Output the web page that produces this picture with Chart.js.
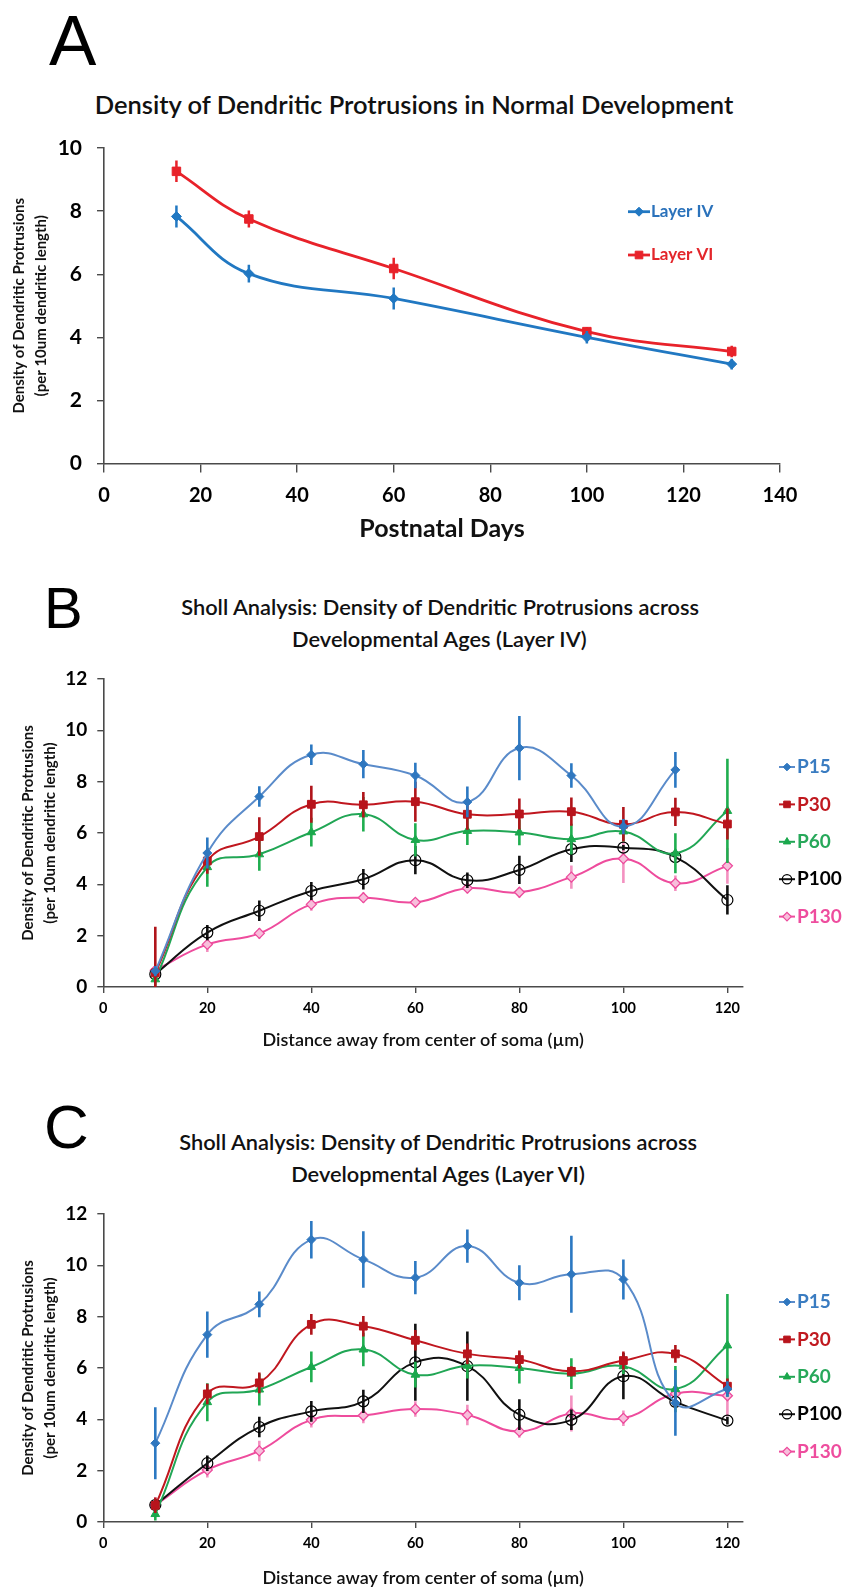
<!DOCTYPE html>
<html><head><meta charset="utf-8">
<script src="https://cdn.jsdelivr.net/npm/chart.js@4/dist/chart.umd.min.js"></script>
<style>
html,body{margin:0;padding:0;background:#fff;width:843px;height:1587px;overflow:hidden;position:relative}
canvas{position:absolute;left:0}
.letter{position:absolute;font-family:'Liberation Sans',Arial,sans-serif;color:#000;line-height:1;white-space:nowrap}
.ttl{position:absolute;white-space:nowrap;color:#111}
</style></head>
<body>
<div class="letter" id="LA" style="font-size:71px;left:49px;top:5px">A</div>
<div class="letter" id="LB" style="font-size:58px;left:44px;top:579px">B</div>
<div class="letter" id="LC" style="font-size:62px;left:44px;top:1096px">C</div>
<div class="ttl" id="tA"></div>
<div class="ttl" id="tB1"></div><div class="ttl" id="tB2"></div>
<div class="ttl" id="tC1"></div><div class="ttl" id="tC2"></div>
<canvas id="cA" width="843" height="560" style="top:0px"></canvas>
<canvas id="cB" width="843" height="500" style="top:560px"></canvas>
<canvas id="cC" width="843" height="500" style="top:1090px"></canvas>
<script>
// ---------------- DATA ----------------
const daysA = [15, 30, 60, 100, 130];
const layerIV = [7.83, 6.02, 5.23, 4.0, 3.15];
const layerIVErr = [0.35, 0.28, 0.35, 0.2, 0.17];
const layerVI = [9.26, 7.75, 6.18, 4.18, 3.55];
const layerVIErr = [0.34, 0.27, 0.34, 0.15, 0.18];

const distances = [10, 20, 30, 40, 50, 60, 70, 80, 90, 100, 110, 120];
const xTicksSholl = [0, 20, 40, 60, 80, 100, 120];

// Layer IV (panel B)
const bP15 = [0.62, 5.22, 7.42, 9.05, 8.68, 8.24, 7.21, 9.31, 8.24, 6.25, 8.46];
const bP15Err = [0.2, 0.6, 0.4, 0.4, 0.55, 0.5, 0.6, 1.25, 0.48, 0.3, 0.7];
const bP30 = [0.55, 4.91, 5.86, 7.12, 7.1, 7.22, 6.73, 6.74, 6.83, 6.34, 6.82, 6.35];
const bP30Err = [1.8, 0.5, 0.75, 0.72, 0.5, 0.78, 0.6, 0.6, 0.55, 0.67, 0.55, 0.6];
const bP60 = [0.3, 4.67, 5.17, 6.03, 6.73, 5.73, 6.08, 6.02, 5.76, 6.06, 5.21, 6.86];
const bP60Err = [0.25, 0.76, 0.64, 0.56, 0.67, 0.65, 0.55, 0.5, 0.6, 0.4, 0.78, 2.03];
const bP100 = [0.5, 2.12, 2.97, 3.74, 4.2, 4.94, 4.16, 4.56, 5.37, 5.43, 5.06, 3.39];
const bP100Err = [0.15, 0.3, 0.4, 0.35, 0.4, 0.55, 0.3, 0.55, 0.5, 0.1, 0.1, 0.57];
const bP130 = [0.65, 1.66, 2.09, 3.22, 3.48, 3.3, 3.85, 3.69, 4.28, 5.0, 4.04, 4.72];
const bP130Err = [0.2, 0.3, 0.2, 0.25, 0.2, 0.15, 0.2, 0.2, 0.45, 0.95, 0.3, 0.7];

// Layer VI (panel C)
const cP15 = [3.07, 7.3, 8.48, 11.0, 10.23, 9.52, 10.75, 9.32, 9.65, 9.45, 4.64, 5.18];
const cP15Err = [1.4, 0.9, 0.5, 0.73, 1.1, 0.65, 0.65, 0.68, 1.5, 0.78, 1.28, 0.3];
const cP30 = [0.65, 4.99, 5.42, 7.7, 7.63, 7.08, 6.55, 6.33, 5.87, 6.29, 6.55, 5.29];
const cP30Err = [0.3, 0.4, 0.4, 0.4, 0.4, 0.4, 0.4, 0.35, 0.2, 0.35, 0.35, 0.3];
const cP60 = [0.31, 4.67, 5.16, 6.04, 6.72, 5.74, 6.09, 6.0, 5.78, 6.07, 5.18, 6.88];
const cP60Err = [0.25, 0.74, 0.62, 0.6, 0.65, 0.5, 0.5, 0.6, 0.6, 0.3, 0.9, 2.0];
const cP100 = [0.66, 2.29, 3.7, 4.31, 4.7, 6.22, 6.07, 4.18, 3.98, 5.68, 4.68, 3.95];
const cP100Err = [0.2, 0.3, 0.4, 0.4, 0.45, 1.5, 1.35, 0.6, 0.4, 0.9, 0.15, 0.15];
const cP130 = [0.66, 2.03, 2.77, 3.98, 4.15, 4.4, 4.17, 3.53, 4.23, 4.04, 5.0, 4.92];
const cP130Err = [0.3, 0.3, 0.4, 0.3, 0.3, 0.3, 0.4, 0.25, 0.7, 0.3, 0.4, 0.8];

// ---------------- STYLE ----------------
const FONT = 'Lato, "Open Sans", "DejaVu Sans", sans-serif';
const AX = '#4a4a4a';
const STY = {
  P15:  {line:'#5a8bca', marker:'#2f77bf', border:'#2f77bf', err:'#2b78c2', text:'#3a7cc1', ps:'rectRot', r:4.5, bw:1},
  P30:  {line:'#c0171f', marker:'#b8141c', border:'#b8141c', err:'#b0141a', text:'#c0191f', ps:'rect', r:5.5, bw:1},
  P60:  {line:'#21a655', marker:'#1aa84c', border:'#1aa84c', err:'#1fae4f', text:'#27a85a', ps:'triangle', r:5, bw:1},
  P100: {line:'#111111', marker:'rgba(255,255,255,0)', border:'#000', err:'#111', text:'#000', ps:'circle', r:5.5, bw:1.2},
  P130: {line:'#ee4c9d', marker:'#f8bedb', border:'#ec4b9c', err:'#f391c0', text:'#ee4d9e', ps:'rectRot', r:5, bw:1.3}
};

function drawMarker(ctx, style, x, y, r, fill, stroke, bw) {
  ctx.save();
  ctx.beginPath();
  if (style === 'rectRot') {
    ctx.moveTo(x, y - r); ctx.lineTo(x + r, y); ctx.lineTo(x, y + r); ctx.lineTo(x - r, y); ctx.closePath();
  } else if (style === 'rect') {
    const s = r * Math.SQRT1_2; ctx.rect(x - s, y - s, 2 * s, 2 * s);
  } else if (style === 'triangle') {
    let a = 0;
    ctx.moveTo(x + Math.sin(a) * r, y - Math.cos(a) * r);
    a += 2 * Math.PI / 3; ctx.lineTo(x + Math.sin(a) * r, y - Math.cos(a) * r);
    a += 2 * Math.PI / 3; ctx.lineTo(x + Math.sin(a) * r, y - Math.cos(a) * r);
    ctx.closePath();
  } else {
    ctx.arc(x, y, r, 0, Math.PI * 2);
  }
  ctx.fillStyle = fill; ctx.fill();
  if (bw > 0) { ctx.strokeStyle = stroke; ctx.lineWidth = bw; ctx.stroke(); }
  ctx.restore();
}

const errorBars = {
  id: 'errorBars',
  beforeDatasetDraw(chart, args) {
    const ds = chart.data.datasets[args.index];
    if (!ds.errors) return;
    const ctx = chart.ctx, ys = chart.scales.y, area = chart.chartArea;
    ctx.save();
    ctx.beginPath(); ctx.rect(area.left, area.top - 2, area.right - area.left, area.bottom - area.top + 2); ctx.clip();
    ctx.strokeStyle = ds.errColor; ctx.lineWidth = ds.errWidth; ctx.lineCap = 'butt';
    args.meta.data.forEach((pt, i) => {
      const v = ds.data[i].y, e = ds.errors[i];
      ctx.beginPath();
      ctx.moveTo(pt.x, ys.getPixelForValue(v - e));
      ctx.lineTo(pt.x, ys.getPixelForValue(v + e));
      ctx.stroke();
    });
    ctx.restore();
  }
};

const customLegend = {
  id: 'customLegend',
  afterDraw(chart, args, o) {
    const ctx = chart.ctx;
    ctx.save();
    chart.data.datasets.forEach((ds, i) => {
      const y = o.y0 + i * o.dy, x0 = o.x, x1 = o.x + o.len;
      ctx.strokeStyle = ds.borderColor; ctx.lineWidth = o.lineWidth;
      ctx.beginPath(); ctx.moveTo(x0, y); ctx.lineTo(x1, y); ctx.stroke();
      drawMarker(ctx, ds.pointStyle, (x0 + x1) / 2, y, ds.pointRadius * o.markerScale,
                 ds.pointBackgroundColor, ds.pointBorderColor, ds.pointBorderWidth);
      ctx.fillStyle = ds.legendColor; ctx.font = o.font;
      ctx.textBaseline = 'middle'; ctx.textAlign = 'left';
      ctx.fillText(ds.label, x1 + o.gap, y);
    });
    ctx.restore();
  }
};

function axisStyle(tickLen) {
  return {
    grid: {drawOnChartArea: false, drawTicks: true, tickLength: tickLen, color: AX, lineWidth: 1.4},
    border: {display: true, color: AX, width: 1.6}
  };
}

// ---------------- PANEL A ----------------
new Chart(document.getElementById('cA'), {
  type: 'line',
  data: {datasets: [
    {label: 'Layer IV', data: daysA.map((d, i) => ({x: d, y: layerIV[i]})), errors: layerIVErr,
     borderColor: '#2178c2', borderWidth: 2.8, tension: 0.4, fill: false,
     pointStyle: 'rectRot', pointRadius: 5, pointBackgroundColor: '#2178c2', pointBorderColor: '#2178c2', pointBorderWidth: 1,
     errColor: '#2178c2', errWidth: 2.5, legendColor: '#2b72bb'},
    {label: 'Layer VI', data: daysA.map((d, i) => ({x: d, y: layerVI[i]})), errors: layerVIErr,
     borderColor: '#e8222a', borderWidth: 2.8, tension: 0.4, fill: false,
     pointStyle: 'rect', pointRadius: 6, pointBackgroundColor: '#e8222a', pointBorderColor: '#e8222a', pointBorderWidth: 1,
     errColor: '#e8222a', errWidth: 2.5, legendColor: '#e3262b'}
  ]},
  options: {
    responsive: false, animation: false, devicePixelRatio: 1, events: [],
    layout: {padding: {left: 0, right: 63, top: 148, bottom: 0}},
    plugins: {legend: {display: false}, tooltip: {enabled: false},
      customLegend: {x: 628, len: 22, y0: 211.7, dy: 43.3, font: 'bold 17px ' + FONT, gap: 1, lineWidth: 2.8, markerScale: 0.9}},
    scales: {
      x: Object.assign({type: 'linear', min: 0, max: 140,
        ticks: {stepSize: 20, font: {family: FONT, size: 20, weight: 'bold'}, color: '#000', padding: 11, maxRotation: 0},
        title: {display: true, text: 'Postnatal Days', font: {family: FONT, size: 25, weight: 'bold', lineHeight: 1.2}, color: '#111', padding: {top: 0, bottom: 16}},
        afterFit(s) { s.height = 96.5; }}, axisStyle(9)),
      y: Object.assign({min: 0, max: 10,
        ticks: {stepSize: 2, font: {family: FONT, size: 21, weight: 'bold'}, color: '#000', padding: 15},
        title: {display: true, text: ['Density of Dendritic Protrusions', '(per 10um dendritic length)'],
                font: {family: FONT, size: 15, weight: 'bold', lineHeight: 1.47}, color: '#111', padding: {top: 8, bottom: 0}},
        afterFit(s) { s.width = 104; }}, axisStyle(7))
    }
  },
  plugins: [errorBars, customLegend]
});

// ---------------- PANELS B & C ----------------
function shollChart(id, list, padTop) {
  return new Chart(document.getElementById(id), {
    type: 'line',
    data: {datasets: list.map(s => ({
      label: s.label, data: s.values.map((v, i) => ({x: distances[i], y: v})), errors: s.errors,
      borderColor: s.sty.line, borderWidth: 2, tension: 0.45, fill: false,
      pointStyle: s.sty.ps, pointRadius: s.sty.r, pointBackgroundColor: s.sty.marker,
      pointBorderColor: s.sty.border, pointBorderWidth: s.sty.bw,
      errColor: s.sty.err, errWidth: 2.6, legendColor: s.sty.text
    }))},
    options: {
      responsive: false, animation: false, devicePixelRatio: 1, events: [],
      layout: {padding: {left: 0, right: 100, top: padTop, bottom: 0}},
      plugins: {legend: {display: false}, tooltip: {enabled: false},
        customLegend: {x: 779, len: 16, y0: padTop + 88, dy: 37.4, font: 'bold 19px ' + FONT, gap: 2, lineWidth: 2, markerScale: 0.85}},
      scales: {
        x: Object.assign({type: 'linear', min: 0, max: 123,
          afterBuildTicks(s) { s.ticks = xTicksSholl.map(v => ({value: v})); },
          ticks: {font: {family: FONT, size: 14.5, weight: 'bold'}, color: '#000', padding: 6.8, maxRotation: 0, autoSkip: false},
          title: {display: true, text: 'Distance away from center of soma (µm)', font: {family: FONT, size: 18, weight: '600', lineHeight: 1.2}, color: '#111',
                  padding: {top: 0, bottom: id === 'cB' ? 9.2 : 1.2}},
          afterFit(s) { s.height = 500 - padTop - 308; }}, axisStyle(6)),
        y: Object.assign({min: 0, max: 12,
          ticks: {stepSize: 2, font: {family: FONT, size: 19, weight: 'bold'}, color: '#000', padding: 10},
          title: {display: true, text: ['Density of Dendritic Protrusions', '(per 10um dendritic length)'],
                  font: {family: FONT, size: 15, weight: 'bold', lineHeight: 1.43}, color: '#111', padding: {top: 17.75, bottom: 0}},
          afterFit(s) { s.width = 103.3; }}, axisStyle(6))
      }
    },
    plugins: [errorBars, customLegend]
  });
}

shollChart('cB', [
  {label: 'P15', values: bP15, errors: bP15Err, sty: STY.P15},
  {label: 'P30', values: bP30, errors: bP30Err, sty: STY.P30},
  {label: 'P60', values: bP60, errors: bP60Err, sty: STY.P60},
  {label: 'P100', values: bP100, errors: bP100Err, sty: STY.P100},
  {label: 'P130', values: bP130, errors: bP130Err, sty: STY.P130}
], 119);

shollChart('cC', [
  {label: 'P15', values: cP15, errors: cP15Err, sty: STY.P15},
  {label: 'P30', values: cP30, errors: cP30Err, sty: STY.P30},
  {label: 'P60', values: cP60, errors: cP60Err, sty: STY.P60},
  {label: 'P100', values: cP100, errors: cP100Err, sty: STY.P100},
  {label: 'P130', values: cP130, errors: cP130Err, sty: STY.P130}
], 124);

// ---------------- TITLES (HTML text, fitted to width) ----------------
const TFONT = 'Lato, "Open Sans", sans-serif';
function fitSize(text, targetW, weight) {
  const c = document.createElement('canvas').getContext('2d');
  c.font = weight + ' 100px ' + TFONT;
  return 100 * targetW / c.measureText(text).width;
}
function place(id, text, cx, cy, size, weight) {
  const el = document.getElementById(id);
  el.textContent = text;
  el.style.font = weight + ' ' + size + 'px ' + TFONT;
  el.style.lineHeight = size + 'px';
  const c = document.createElement('canvas').getContext('2d');
  c.font = weight + ' ' + size + 'px ' + TFONT;
  const w = c.measureText(text).width;
  el.style.left = (cx - w / 2) + 'px';
  el.style.top = (cy - 0.527 * size) + 'px';
}
const titleA = 'Density of Dendritic Protrusions in Normal Development';
const titleB1 = 'Sholl Analysis: Density of Dendritic Protrusions across';
const titleB2 = 'Developmental Ages (Layer IV)';
const titleC2 = 'Developmental Ages (Layer VI)';
const TW = '600';
place('tA', titleA, 414.5, 105, fitSize(titleA, 640, TW), TW);
const sB = fitSize(titleB1, 520, TW);
place('tB1', titleB1, 441, 607, sB, TW);
place('tB2', titleB2, 440, 639, sB, TW);
place('tC1', titleB1, 439, 1142, sB, TW);
place('tC2', titleC2, 439, 1174, sB, TW);
</script>
</body></html>
